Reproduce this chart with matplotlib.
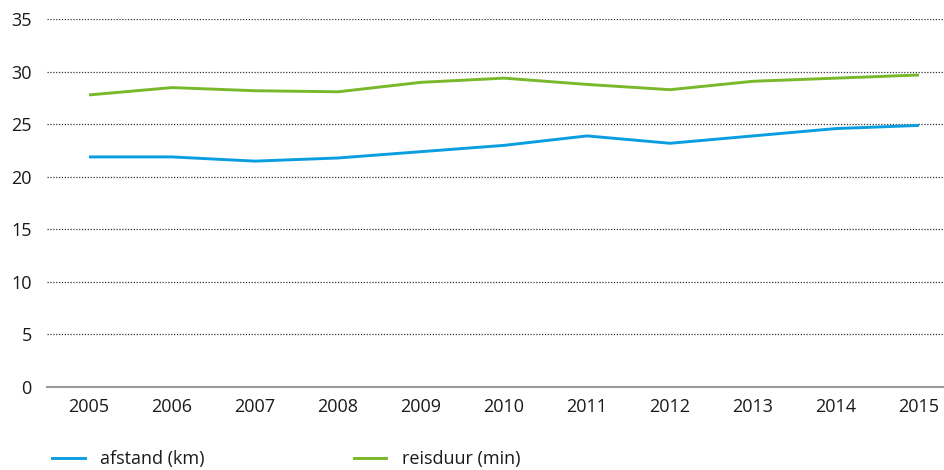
import matplotlib
matplotlib.use('Agg')
import matplotlib.pyplot as plt
from matplotlib.lines import Line2D

plt.rcParams['font.family'] = ['Open Sans', 'DejaVu Sans']

years = [2005, 2006, 2007, 2008, 2009, 2010, 2011, 2012, 2013, 2014, 2015]
afstand = [21.9, 21.9, 21.5, 21.8, 22.4, 23.0, 23.9, 23.2, 23.9, 24.6, 24.9]
reisduur = [27.8, 28.5, 28.2, 28.1, 29.0, 29.4, 28.8, 28.3, 29.1, 29.4, 29.7]
yticks = [0, 5, 10, 15, 20, 25, 30, 35]

blue = '#0a9ee0'
green = '#78b82a'

W, H = 945, 470
fig = plt.figure(figsize=(W / 100, H / 100), dpi=100)
ax = fig.add_axes([47 / W, 1 - 387 / H, (W - 47) / W, (387 - 19.3) / H])

ax.plot(years, afstand, color=blue, lw=2.1, solid_capstyle='butt')
ax.plot(years, reisduur, color=green, lw=2.1, solid_capstyle='butt')

ax.set_xlim(2004.494, 2015.313)
ax.set_ylim(0, 35)
ax.set_yticks(yticks)
ax.set_xticks(years)
ax.set_xticklabels([str(y) for y in years])

# dotted horizontal gridlines
for v in yticks[1:]:
    ax.axhline(v, color='#333333', lw=0.9, ls=(0, (1, 1.3)), zorder=0)

for s in ['top', 'right', 'left']:
    ax.spines[s].set_visible(False)
ax.spines['bottom'].set_color('#999999')
ax.spines['bottom'].set_linewidth(1.5)
ax.spines['bottom'].set_clip_on(False)

ax.tick_params(axis='both', length=0, labelsize=13, colors='#1a1a1a')
ax.tick_params(axis='x', pad=8)
ax.tick_params(axis='y', pad=11)

# legend entries below the plot
h1 = Line2D([], [], color=blue, lw=2.1)
h2 = Line2D([], [], color=green, lw=2.1)
leg1 = fig.legend([h1], ['afstand (km)'], loc='center left',
                  bbox_to_anchor=(52 / W, 1 - 459 / H), frameon=False,
                  fontsize=13, handlelength=1.8, handletextpad=0.85,
                  borderpad=0, borderaxespad=0)
leg2 = fig.legend([h2], ['reisduur (min)'], loc='center left',
                  bbox_to_anchor=(354 / W, 1 - 459 / H), frameon=False,
                  fontsize=13, handlelength=1.8, handletextpad=0.85,
                  borderpad=0, borderaxespad=0)
for lg in (leg1, leg2):
    for t in lg.get_texts():
        t.set_color('#1a1a1a')

fig.savefig('out.png', dpi=100)
